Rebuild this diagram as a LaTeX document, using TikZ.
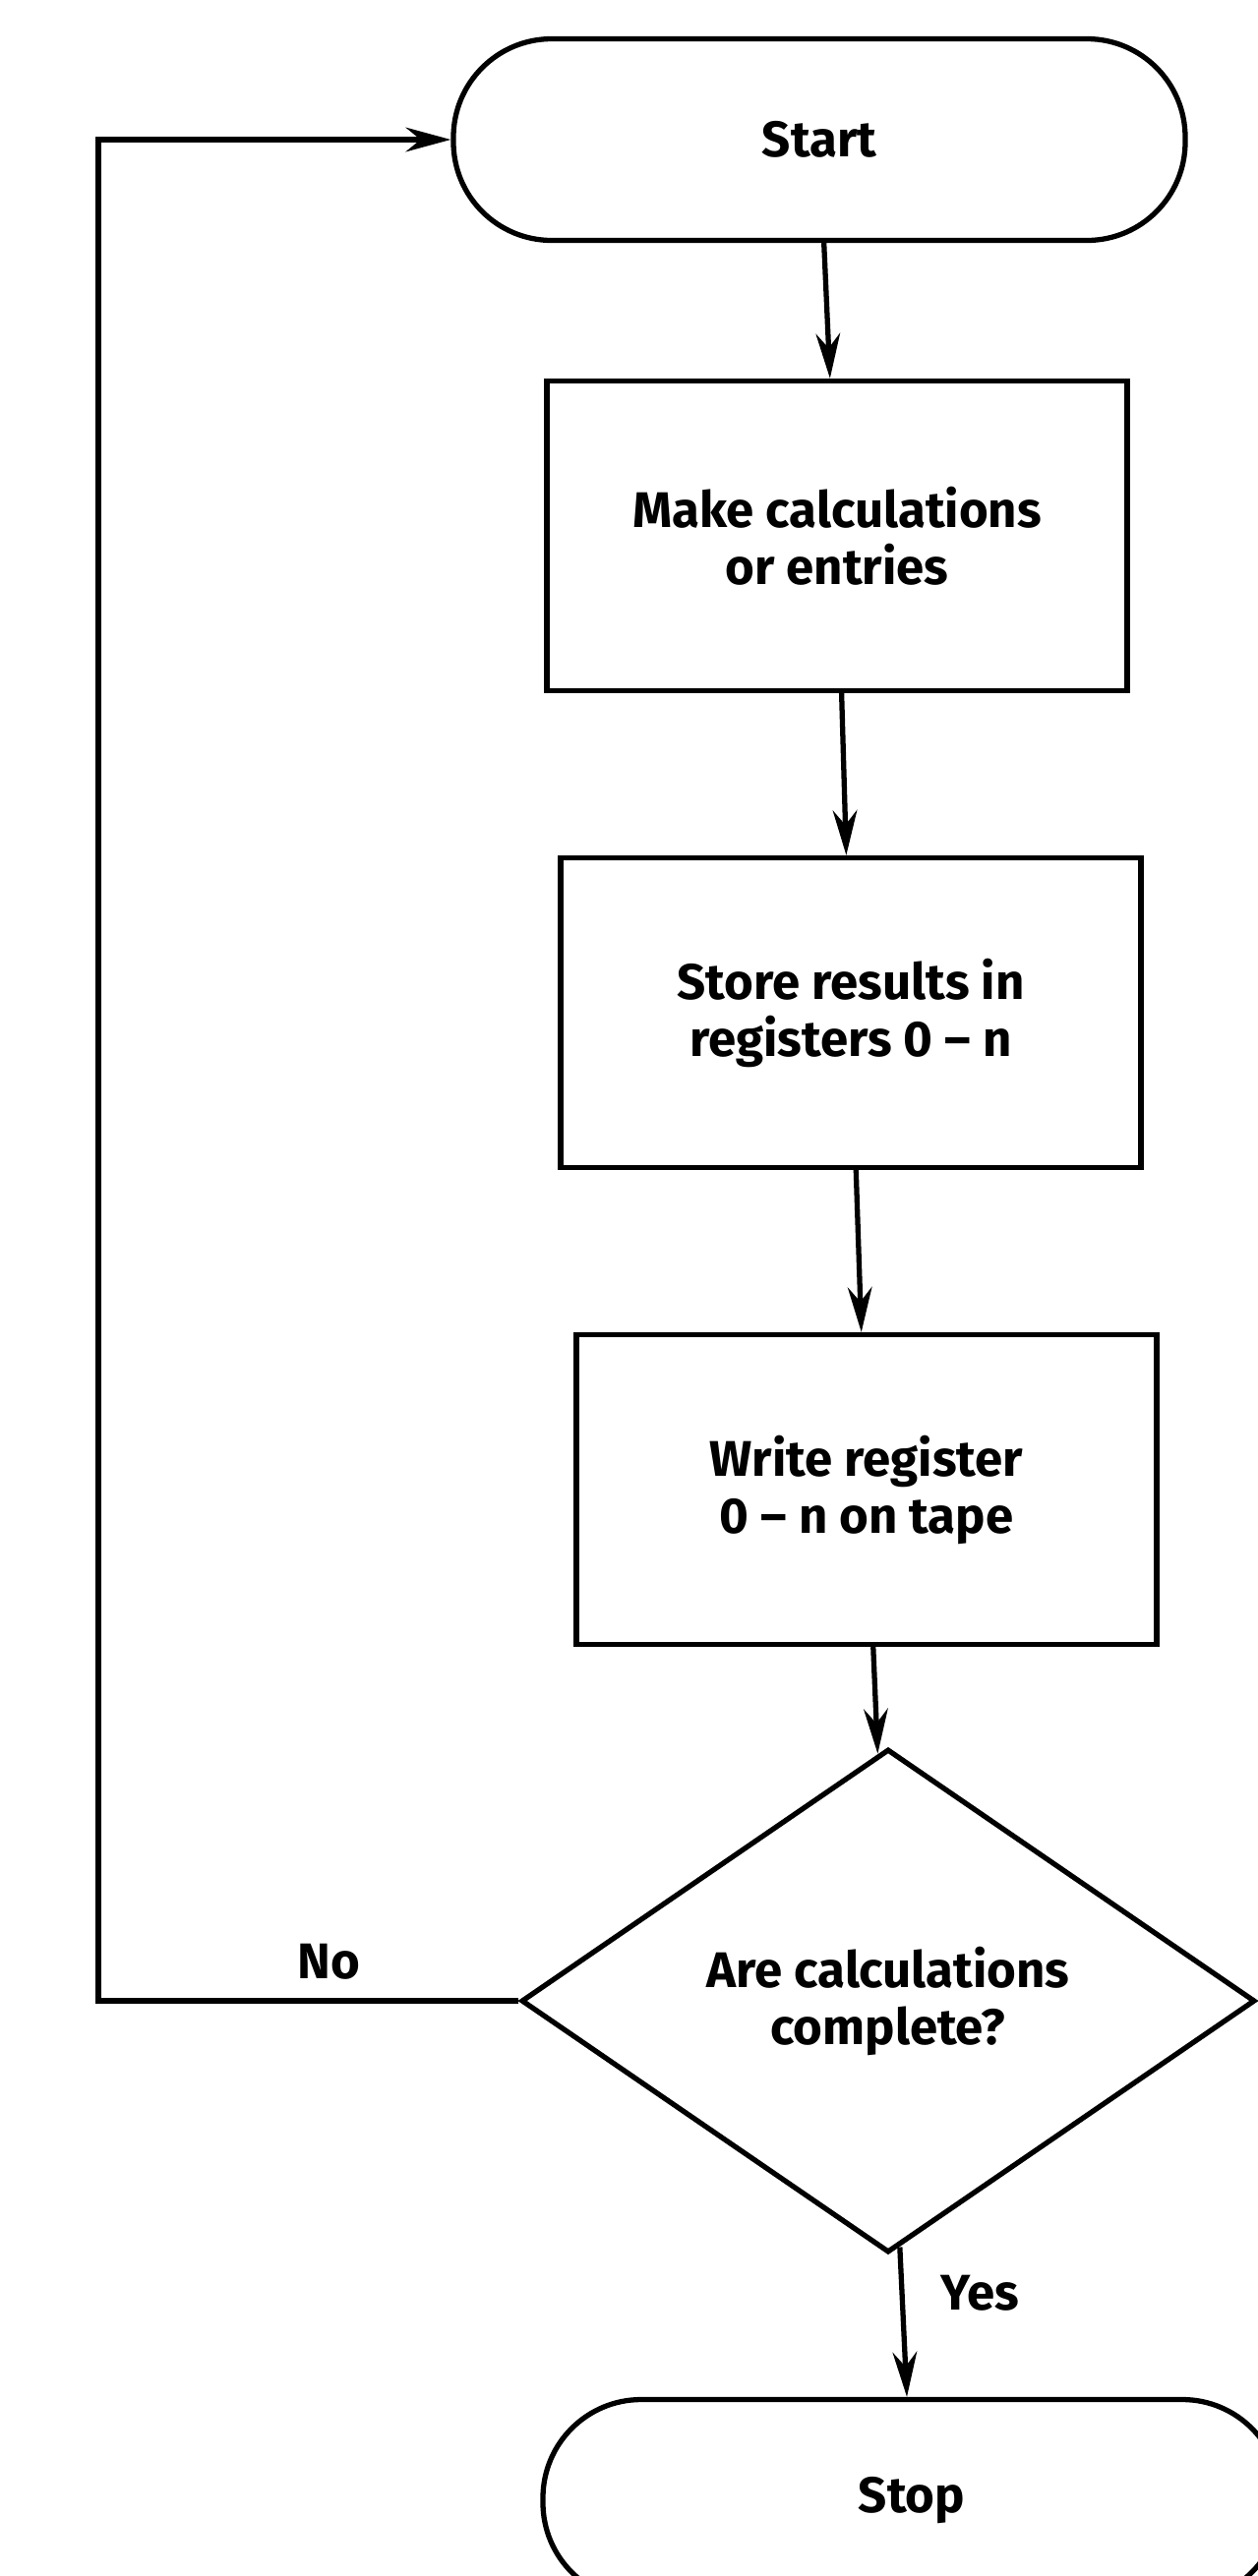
\documentclass[tikz,border=0pt]{standalone}
\usepackage{fontspec}
\setmainfont{Fira Sans}
\usepackage{tikz}
\usetikzlibrary{positioning, calc, shapes.geometric, arrows.meta}

\begin{document}
\begin{tikzpicture}[
        box/.style={rectangle, draw, line width=1.5pt, minimum width=5.9cm, minimum height=3.15cm, align=center, font=\fontsize{14.5}{16.5}\selectfont\bfseries},
        term/.style={box, rounded corners=1cm, minimum height=2.05cm},
        decision/.style={diamond, draw, line width=1.5pt, minimum width=7.46cm, minimum height=5.12cm, inner sep=0pt, align=center, font=\fontsize{14.5}{16.5}\selectfont\bfseries},
        lbl/.style={font=\fontsize{14.5}{16.5}\selectfont\bfseries},
        arrow/.style={-{Stealth[length=13pt, width=7pt]}, line width=1.5pt}
    ]
        \path[use as bounding box, clip] (0,0) rectangle (12.79,-26.2);
        \node[term, minimum width=7.44cm] (START) at (8.33,-1.42) {Start};
        \node[box] (CALC) at (8.51,-5.45) {Make calculations\\or entries};
        \node[box] (STORE) at (8.65,-10.30) {Store results in\\registers 0 -- n};
        \node[box] (WRITE) at (8.81,-15.15) {Write register\\0 -- n on tape};
        \node[decision] (DONE) at (9.03,-20.35) {Are calculations\\complete?};
        \node[term, minimum width=7.5cm] (STOP) at (9.27,-25.43) {Stop};
        \coordinate (LEFT) at (1.0,0);
        \node[lbl] (NO) at (3.34,-19.95) {No};
        \node[lbl] (YES) at (9.96,-23.32) {Yes};

        \draw[arrow] (START) -- (CALC);
        \draw[arrow] (CALC) -- (STORE);
        \draw[arrow] (STORE) -- (WRITE);
        \draw[arrow] (WRITE) -- (DONE);
        \draw[arrow] (DONE) -- (STOP);
        \draw[arrow] (DONE.west) -- (DONE.west -| LEFT) -- (START.west -| LEFT) -- (START.west);
    \end{tikzpicture}
\end{document}
